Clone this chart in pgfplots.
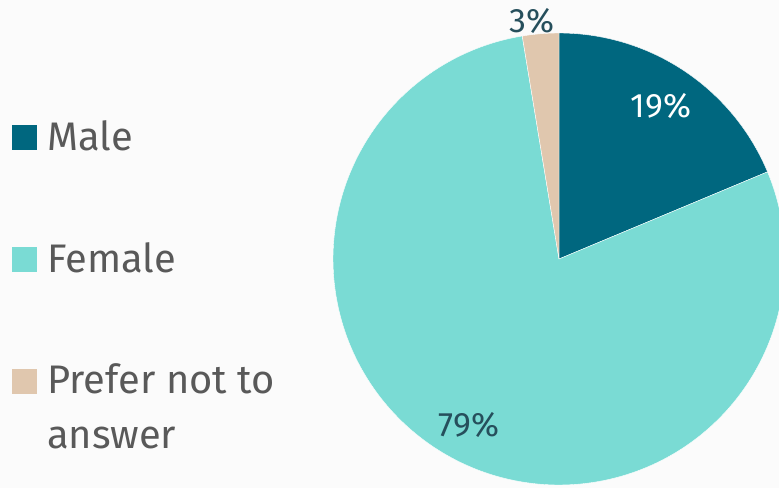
\documentclass[border=0pt]{standalone}
\usepackage{pgfplots}
\pgfplotsset{compat=1.18}
\usepackage{fontspec}
\setmainfont{Fira Sans}
\definecolor{male}{HTML}{00677F}
\definecolor{female}{HTML}{7ADBD4}
\definecolor{pna}{HTML}{E0C7AE}
\definecolor{bg}{HTML}{FBFBFB}
\definecolor{legtext}{HTML}{595959}
\definecolor{labtext}{HTML}{264F5C}
% shares (percent)
\pgfmathsetmacro{\pmale}{18.7}
\pgfmathsetmacro{\ppna}{2.6}
\pgfmathsetmacro{\pfemale}{100-\pmale-\ppna}
\pgfmathsetmacro{\amaleEnd}{90-3.6*\pmale}
\pgfmathsetmacro{\apnaEnd}{90+3.6*\ppna}
\pgfmathsetmacro{\afemEnd}{\apnaEnd-360}
\begin{document}
\begin{tikzpicture}
\begin{axis}[
  scale only axis, width=779bp, height=488bp,
  xmin=0, xmax=779, ymin=0, ymax=488, y dir=reverse,
  hide axis, clip=true,
]
\fill[bg] (rel axis cs:0,0) rectangle (rel axis cs:1,1);
% pie slices (centre 559,259; radius 226 px)
\addplot[fill=male, draw=white, line width=0.4pt, domain=90:\amaleEnd, samples=60, variable=\t]
  ({559+226*cos(\t)},{259-226*sin(\t)}) -- (axis cs:559,259) -- cycle;
\addplot[fill=female, draw=white, line width=0.4pt, domain=\amaleEnd:\afemEnd, samples=200, variable=\t]
  ({559+226*cos(\t)},{259-226*sin(\t)}) -- (axis cs:559,259) -- cycle;
\addplot[fill=pna, draw=white, line width=0.4pt, domain=\afemEnd+360:90, samples=20, variable=\t]
  ({559+226*cos(\t)},{259-226*sin(\t)}) -- (axis cs:559,259) -- cycle;
% legend squares
\addplot[only marks, draw=male, fill=male, mark=square*, mark size=12bp, mark options={draw=male, fill=male}] coordinates {(24,137.5)};
\addplot[only marks, draw=female, fill=female, mark=square*, mark size=12bp, mark options={draw=female, fill=female}] coordinates {(24,259.5)};
\addplot[only marks, draw=pna, fill=pna, mark=square*, mark size=12bp, mark options={draw=pna, fill=pna}] coordinates {(24,381.5)};
% legend text
\node[anchor=base west, text=legtext, font=\fontsize{40}{48}\selectfont, inner sep=0pt] at (axis cs:47,150) {Male};
\node[anchor=base west, text=legtext, font=\fontsize{40}{48}\selectfont, inner sep=0pt] at (axis cs:47,272) {Female};
\node[anchor=base west, text=legtext, font=\fontsize{40}{48}\selectfont, inner sep=0pt] at (axis cs:47,393) {Prefer not to};
\node[anchor=base west, text=legtext, font=\fontsize{40}{48}\selectfont, inner sep=0pt] at (axis cs:47,448) {answer};
% slice labels
\node[text=white, font=\fontsize{34}{40}\selectfont, inner sep=0pt] at (axis cs:661,106) {19\%};
\node[text=labtext, font=\fontsize{34}{40}\selectfont, inner sep=0pt] at (axis cs:469,425) {79\%};
\node[text=labtext, font=\fontsize{34}{40}\selectfont, inner sep=0pt] at (axis cs:532,21) {3\%};
\end{axis}
\end{tikzpicture}
\end{document}
